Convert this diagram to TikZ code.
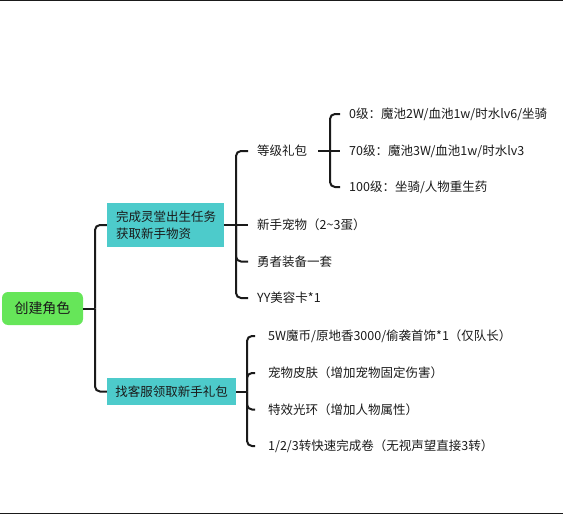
\documentclass[tikz,border=0pt]{standalone}
\usepackage{fontspec}
\setmainfont{Noto Sans CJK SC}
\definecolor{rootgreen}{HTML}{66E659}
\definecolor{tealbox}{HTML}{4DCBCB}
\definecolor{ink}{HTML}{1A1A1A}
\begin{document}
\begin{tikzpicture}[x=1pt,y=-1pt,
  font=\fontsize{12.5}{15}\selectfont,
  conn/.style={line width=2pt, rounded corners=5pt, draw=ink},
  leafa/.style={anchor=west, inner ysep=2pt, inner xsep=9pt, text=ink},
  leafb/.style={anchor=west, inner ysep=2pt, inner xsep=13pt, text=ink},
  topicbox/.style={fill=tealbox, text=ink, inner ysep=2pt}]
\useasboundingbox (0,0) rectangle (563,514);
\draw[line width=1.2pt, ink] (0,0.6) -- (563,0.6);
\draw[line width=1.5pt, ink] (0,513.3) -- (563,513.3);

\node[fill=rootgreen, rounded corners=6pt, minimum width=81pt, minimum height=33pt,
      text=ink, font=\fontsize{14}{16}\selectfont] (root) at (42.5,308.5) {创建角色};

\node[topicbox, minimum width=117pt, minimum height=44pt, text width=99pt, inner xsep=9pt,
      align=left, font=\fontsize{12.5}{17}\selectfont] (box1) at (165.5,225) {完成灵堂出生任务\\获取新手物资};
\node[topicbox, minimum width=129pt, minimum height=27pt] (box2) at (171.5,391.5) {找客服领取新手礼包};

\coordinate (j0) at (95,308.5);
\coordinate (j1) at (236,225);
\coordinate (j2) at (247,391.5);
\coordinate (j3) at (330,151);

% box1 children
\node[leafa] (a1) at (248,151) {等级礼包};
\node[leafa] (a2) at (248,225) {新手宠物（2\textasciitilde3蛋）};
\node[leafa] (a3) at (248,261.5) {勇者装备一套};
\node[leafa] (a4) at (248,298) {YY美容卡*1};

% level gift children
\node[leafa] (b1) at (340,114) {0级：魔池2W/血池1w/时水lv6/坐骑};
\node[leafa] (b2) at (340,151) {70级：魔池3W/血池1w/时水lv3};
\node[leafa] (b3) at (340,187) {100级：坐骑/人物重生药};

% box2 children
\node[leafb] (c1) at (255,336) {5W魔币/原地香3000/偷袭首饰*1（仅队长）};
\node[leafb] (c2) at (255,373) {宠物皮肤（增加宠物固定伤害）};
\node[leafb] (c3) at (255,409.5) {特效光环（增加人物属性）};
\node[leafb] (c4) at (255,446) {1/2/3转快速完成卷（无视声望直接3转）};

% connectors
\draw[conn] (root.east) -- (j0);
\draw[conn] (j0) |- (box1.west);
\draw[conn] (j0) |- (box2.west);

\draw[conn] (box1.east) -- (j1);
\draw[conn] (j1) |- (a1.west);
\draw[conn] (j1) -- (a2.west);
\draw[conn] (j1) |- (a3.west);
\draw[conn] (j1) |- (a4.west);

\draw[conn] ([xshift=2pt]a1.east) -- (j3);
\draw[conn] (j3) |- (b1.west);
\draw[conn] (j3) -- (b2.west);
\draw[conn] (j3) |- (b3.west);

\draw[conn] (box2.east) -- (j2);
\draw[conn] (j2) |- (c1.west);
\draw[conn] (j2) |- (c2.west);
\draw[conn] (j2) |- (c3.west);
\draw[conn] (j2) |- (c4.west);
\end{tikzpicture}
\end{document}
